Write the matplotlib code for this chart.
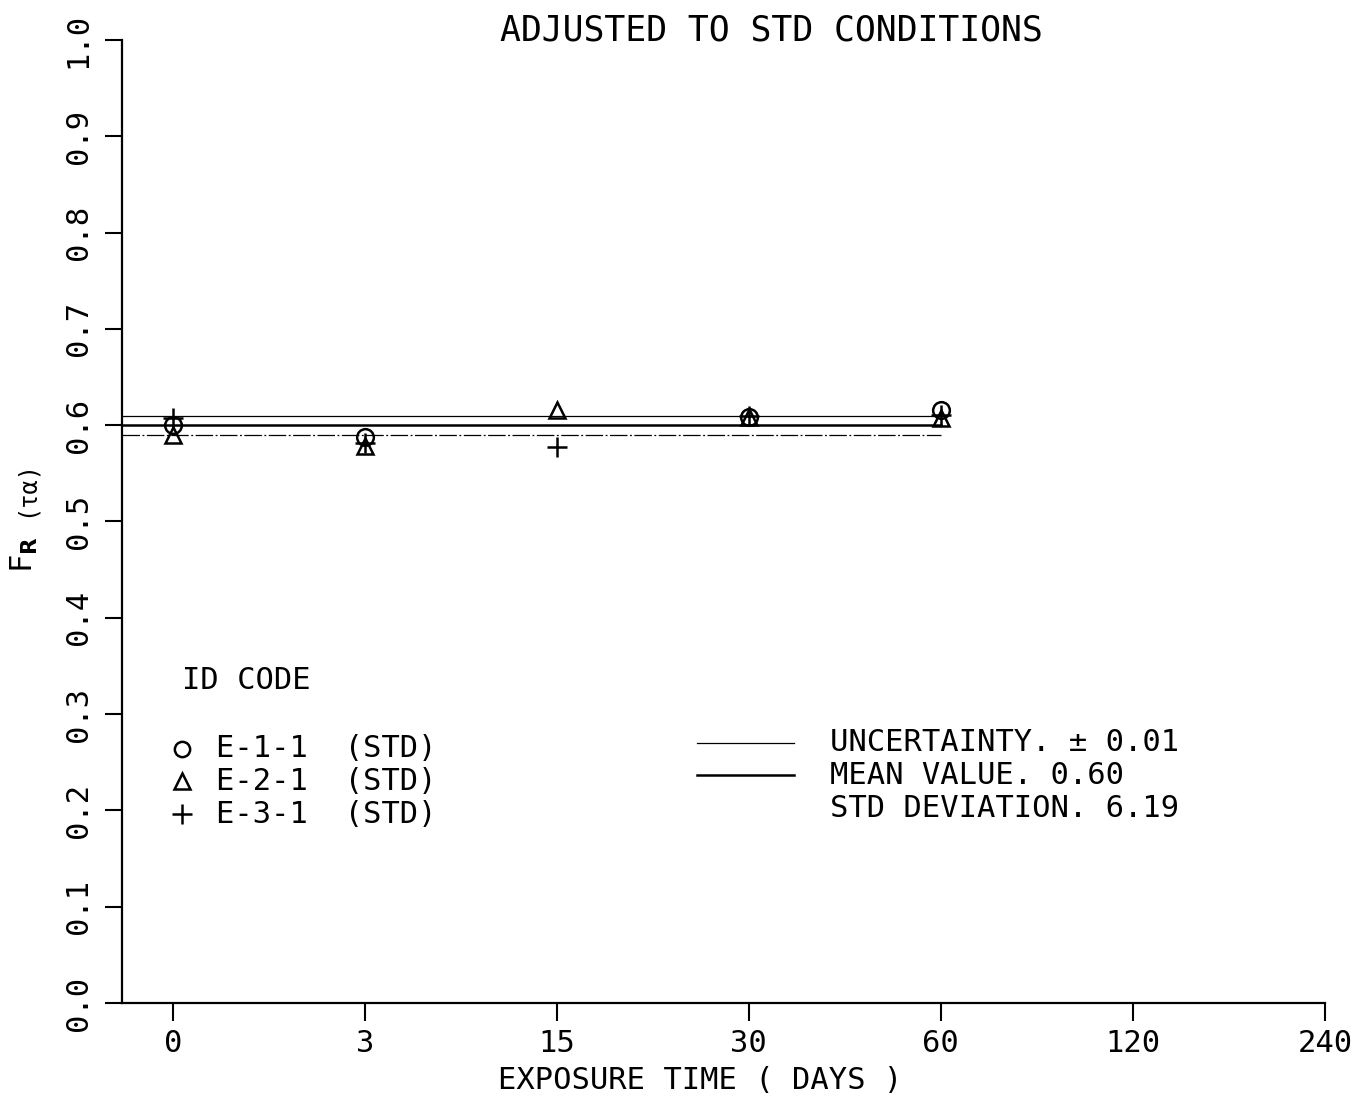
import numpy as np
import matplotlib
matplotlib.use('Agg')
import matplotlib.pyplot as plt

# exposure days shown as evenly spaced categories
days = ['0', '3', '15', '30', '60', '120', '240']

# F_R(tau alpha), per sample (nan = no mark)
e11 = [0.600, 0.588, np.nan, 0.609, 0.616]   # circle
e21 = [0.590, 0.578, 0.616, 0.609, 0.607]   # triangle
e31 = [0.607, 0.582, 0.577, 0.610, 0.611]   # plus

mean_val = 0.60
uncert = 0.01
yticks = np.round(np.arange(0, 1.01, 0.1), 1)

plt.rcParams['font.family'] = 'DejaVu Sans Mono'
fs = 22

fig = plt.figure(figsize=(13.63, 10.96), dpi=100)
ax = fig.add_axes([0.0895, 0.0849, 0.8825, 0.8786])

xpos = np.arange(len(days))
n = len(e11)

# mean and uncertainty band lines
xl = -0.265
ax.plot([xl, n - 1], [mean_val + uncert] * 2, color='black', lw=0.9)
ax.plot([xl, n - 1], [mean_val] * 2, color='black', lw=1.8)
ax.plot([xl, n - 1], [mean_val - uncert] * 2, color='black', lw=0.9, dashes=(14, 2, 1.5, 2))

mk = dict(color='black', mfc='none', mew=1.8, ls='none')
ax.plot(xpos[:n], e11, marker='o', ms=12, **mk)
ax.plot(xpos[:n], e21, marker='^', ms=12, **mk)
ax.plot(xpos[:n], e31, marker='+', ms=15, **mk)

ax.set_xlim(xl, len(days) - 1)
ax.set_ylim(0, 1.0)
ax.set_xticks(xpos)
ax.set_xticklabels(days, fontsize=fs)
ax.set_yticks(yticks)
ax.set_yticklabels([f'{v:.1f}' for v in yticks], fontsize=fs, rotation=90, va='center')
ax.tick_params(axis='x', direction='out', length=13, width=1.5, pad=6)
ax.tick_params(axis='y', direction='out', length=12, width=1.5, pad=9)
for s in ['top', 'right']:
    ax.spines[s].set_visible(False)
for s in ['left', 'bottom']:
    ax.spines[s].set_linewidth(1.6)

fig.text(0.566, 0.972, 'ADJUSTED TO STD CONDITIONS', fontsize=25, ha='center', va='center')
fig.text(0.514, 0.001, 'EXPOSURE TIME ( DAYS )', fontsize=fs, ha='center', va='bottom')
fig.text(0.018, 0.494, r'F$_{\mathbf{R}}$', fontsize=fs, rotation=90, ha='center', va='center')
fig.text(0.019, 0.554, '(\u03c4\u03b1)', fontsize=17, rotation=90, ha='center', va='center')

# ID code legend
ax.text(0.05, 0.335, 'ID CODE', transform=ax.transAxes, fontsize=fs, va='center')
labels = ['E-1-1  (STD)', 'E-2-1  (STD)', 'E-3-1  (STD)']
markers = [('o', 11), ('^', 11), ('+', 15)]
for i, (lab, (m, s)) in enumerate(zip(labels, markers)):
    yy = 0.264 - i * 0.034
    ax.plot([0.05], [yy], transform=ax.transAxes, marker=m, ms=s, **mk)
    ax.text(0.078, yy, lab, transform=ax.transAxes, fontsize=fs, va='center')

# line legend
ax.plot([0.478, 0.559], [0.270, 0.270], transform=ax.transAxes, color='black', lw=0.9)
ax.plot([0.478, 0.559], [0.237, 0.237], transform=ax.transAxes, color='black', lw=1.8)
stats = ['UNCERTAINTY. \u00b1 0.01', 'MEAN VALUE. 0.60', 'STD DEVIATION. 6.19']
for i, t in enumerate(stats):
    ax.text(0.589, 0.270 - i * 0.034, t, transform=ax.transAxes, fontsize=fs, va='center')

fig.savefig('out.png', dpi=100)
